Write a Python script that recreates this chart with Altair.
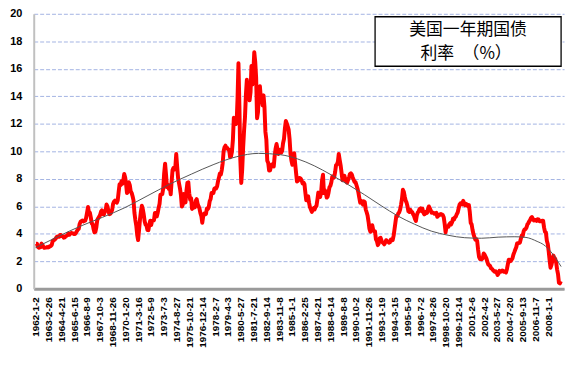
import altair as alt
import pandas as pd

# US 1-year treasury yield (%), monthly
RATES_1960S = [
    3.28, 3.28, 3.06, 2.99, 3.03, 3.03, 3.29, 3.20, 3.06, 2.98, 3.00, 3.01,
    3.04, 3.01, 3.03, 3.11, 3.12, 3.20, 3.48, 3.53, 3.57, 3.64, 3.74, 3.81,
    3.79, 3.78, 3.91, 3.91, 3.84, 3.83, 3.72, 3.74, 3.84, 3.86, 3.91, 4.02,
    3.94, 4.03, 4.06, 4.04, 4.03, 3.99, 3.98, 4.07, 4.20, 4.30, 4.37, 4.72,
    4.88, 4.94, 4.97, 4.90, 4.93, 4.97, 5.17, 5.54, 5.95, 5.58, 5.54, 5.20,
    4.75, 4.71, 4.35, 4.11, 4.15, 4.48, 5.01, 5.13, 5.24, 5.37, 5.61, 5.71,
    5.43, 5.41, 5.58, 5.71, 6.14, 5.98, 5.65, 5.43, 5.45, 5.57, 5.75, 6.19,
    6.34, 6.41, 6.34, 6.26, 6.42, 7.04, 7.60, 7.54, 7.82, 7.64, 7.89, 8.35,
]
RATES_1970S = [
    8.10, 7.59, 6.97, 7.06, 7.75, 7.55, 7.10, 6.98, 6.73, 6.43, 5.51, 5.00,
    4.57, 3.89, 3.55, 4.30, 5.04, 5.64, 6.04, 5.80, 5.41, 4.91, 4.67, 4.60,
    4.28, 4.27, 4.67, 4.96, 4.64, 4.93, 4.96, 4.98, 5.52, 5.52, 5.27, 5.52,
    5.89, 6.19, 6.85, 6.85, 6.89, 7.31, 8.39, 9.10, 8.31, 7.40, 7.57, 7.27,
    7.42, 6.88, 7.76, 8.62, 8.78, 8.67, 8.80, 9.80, 8.87, 8.05, 7.66, 7.31,
    6.83, 5.98, 6.11, 6.90, 6.39, 6.29, 7.11, 7.70, 7.75, 6.95, 6.49, 6.60,
    5.81, 5.91, 6.21, 5.92, 6.40, 6.52, 6.20, 6.00, 5.84, 5.50, 5.29, 4.80,
    5.29, 5.47, 5.50, 5.44, 5.84, 5.80, 5.94, 6.37, 6.53, 6.97, 6.95, 6.96,
    7.28, 7.34, 7.31, 7.45, 7.82, 8.09, 8.39, 8.31, 8.64, 9.14, 10.01, 10.30,
    10.41, 10.24, 10.25, 10.12, 10.12, 9.57, 9.64, 9.98, 10.84, 12.44, 12.39, 11.98,
]
RATES_1980S = [
    12.06, 13.92, 16.40, 13.30, 9.39, 7.70, 8.65, 10.24, 11.52, 12.49, 14.15, 15.20,
    14.08, 14.57, 13.71, 14.32, 16.20, 14.86, 15.72, 17.20, 16.52, 15.38, 12.41, 12.85,
    14.32, 14.73, 13.95, 13.98, 13.34, 14.07, 13.24, 11.43, 10.85, 9.32, 9.16, 8.60,
    8.62, 8.92, 9.04, 8.98, 8.90, 9.66, 10.20, 10.53, 10.16, 9.81, 9.94, 10.11,
    9.90, 10.04, 10.59, 10.90, 11.66, 12.20, 12.03, 11.82, 11.58, 10.90, 9.82, 9.33,
    9.02, 9.29, 9.86, 9.14, 8.46, 7.80, 7.86, 8.05, 8.07, 8.01, 7.88, 7.67,
    7.73, 7.61, 7.03, 6.44, 6.65, 6.73, 6.27, 5.93, 5.77, 5.60, 5.80, 5.87,
    5.78, 5.96, 6.03, 6.50, 7.00, 6.80, 6.68, 7.03, 7.90, 8.30, 6.96, 7.17,
    6.99, 6.64, 6.71, 7.01, 7.40, 7.49, 7.75, 8.17, 8.09, 8.11, 8.48, 8.99,
    9.05, 9.25, 9.80, 9.36, 8.98, 8.44, 7.89, 8.18, 8.22, 7.99, 7.77, 7.72,
]
RATES_1990S = [
    7.92, 8.11, 8.35, 8.40, 8.32, 8.10, 7.94, 7.78, 7.76, 7.55, 7.31, 7.05,
    6.64, 6.27, 6.40, 6.24, 6.13, 6.36, 6.31, 5.78, 5.57, 5.33, 4.89, 4.38,
    4.15, 4.29, 4.63, 4.30, 4.19, 4.17, 3.60, 3.47, 3.18, 3.30, 3.68, 3.71,
    3.50, 3.39, 3.33, 3.24, 3.36, 3.54, 3.47, 3.44, 3.36, 3.39, 3.58, 3.61,
    3.54, 3.87, 4.32, 4.82, 5.31, 5.27, 5.48, 5.56, 5.76, 6.11, 6.54, 7.20,
    7.05, 6.70, 6.43, 6.27, 6.00, 5.64, 5.59, 5.75, 5.62, 5.59, 5.43, 5.31,
    5.09, 4.94, 5.34, 5.54, 5.64, 5.81, 5.85, 5.67, 5.83, 5.55, 5.42, 5.47,
    5.61, 5.53, 5.80, 5.99, 5.87, 5.69, 5.54, 5.56, 5.52, 5.46, 5.46, 5.53,
    5.24, 5.31, 5.39, 5.38, 5.44, 5.41, 5.36, 5.21, 4.71, 4.12, 4.53, 4.52,
    4.51, 4.70, 4.78, 4.69, 4.85, 5.10, 5.03, 5.20, 5.25, 5.43, 5.55, 5.84,
]
RATES_2000S = [
    6.12, 6.22, 6.22, 6.15, 6.40, 6.17, 6.08, 6.18, 6.13, 6.01, 6.09, 5.60,
    4.81, 4.68, 4.30, 3.98, 3.78, 3.58, 3.62, 3.47, 2.82, 2.33, 2.18, 2.22,
    2.16, 2.23, 2.57, 2.48, 2.35, 2.20, 1.96, 1.76, 1.72, 1.65, 1.49, 1.45,
    1.36, 1.30, 1.24, 1.27, 1.18, 1.01, 1.12, 1.31, 1.24, 1.25, 1.34, 1.31,
    1.24, 1.24, 1.19, 1.43, 1.78, 2.12, 2.10, 2.02, 2.12, 2.23, 2.50, 2.67,
    2.86, 3.03, 3.30, 3.32, 3.33, 3.36, 3.64, 3.87, 3.85, 4.18, 4.33, 4.35,
    4.45, 4.68, 4.77, 4.90, 5.00, 5.16, 5.22, 5.08, 4.97, 5.01, 5.01, 4.94,
    5.06, 5.05, 4.92, 4.93, 4.91, 4.96, 4.96, 4.47, 4.14, 4.10, 3.50, 3.26,
    2.71, 2.05, 1.54, 1.74, 2.06, 2.42, 2.28, 2.18, 1.91, 1.42, 1.07, 0.45,
    0.40, 0.55,
]

# Polynomial trend line (decimal year, value)
TREND_YEARS = [
    1962.0, 1964.0, 1966.0, 1968.0, 1970.0, 1972.0, 1974.0, 1976.0, 1978.0,
    1980.0, 1982.0, 1984.0, 1985.5, 1987.0, 1988.5, 1990.0, 1991.5, 1993.0,
    1994.5, 1996.0, 1997.5, 1999.0, 2000.5, 2002.0, 2003.5, 2005.0, 2006.0,
    2007.0, 2007.6, 2008.2, 2009.15,
]
TREND_VALUES = [
    3.0, 3.8, 4.55, 5.2, 5.9, 6.75, 7.6, 8.35, 9.05,
    9.6, 9.85, 9.75, 9.45, 8.95, 8.3, 7.6, 6.85, 6.05,
    5.3, 4.7, 4.2, 3.9, 3.72, 3.68, 3.76, 3.79, 3.74,
    3.45, 3.2, 2.73, 1.62,
]

TICK_LABELS = [
    "1962-1-2", "1963-2-26", "1964-4-21", "1965-6-15", "1966-8-9", "1967-10-3",
    "1968-11-26", "1970-1-20", "1971-3-16", "1972-5-9", "1973-7-3", "1974-8-27",
    "1975-10-21", "1976-12-14", "1978-2-7", "1979-4-3", "1980-5-27", "1981-7-21",
    "1982-9-14", "1983-11-8", "1985-1-1", "1986-2-25", "1987-4-21", "1988-6-14",
    "1989-8-8", "1990-10-2", "1991-11-26", "1993-1-19", "1994-3-15", "1995-5-9",
    "1996-7-2", "1997-8-26", "1998-10-20", "1999-12-14", "2001-2-6", "2002-4-2",
    "2003-5-27", "2004-7-20", "2005-9-13", "2006-11-7", "2008-1-1",
]
Y_TICKS = [0, 2, 4, 6, 8, 10, 12, 14, 16, 18, 20]
TITLE_LINES = ["美国一年期国债", "利率\u3000（%）"]

EPOCH = pd.Timestamp("1970-01-01")


def to_ms(ts):
    return int((ts - EPOCH) / pd.Timedelta(milliseconds=1))


values = RATES_1960S + RATES_1970S + RATES_1980S + RATES_1990S + RATES_2000S
months = pd.date_range("1962-01-01", periods=len(values), freq="MS") + pd.Timedelta(days=14)
df = pd.DataFrame({"ms": [to_ms(m) for m in months], "rate": values})


def year_to_ms(y):
    yi = int(y)
    start = pd.Timestamp(year=yi, month=1, day=1)
    end = pd.Timestamp(year=yi + 1, month=1, day=1)
    return to_ms(start + (end - start) * (y - yi))


trend_df = pd.DataFrame({
    "ms": [year_to_ms(y) for y in TREND_YEARS],
    "rate": TREND_VALUES,
})

tick_ms = []
for s in TICK_LABELS:
    yy, mm, dd = (int(p) for p in s.split("-"))
    tick_ms.append(to_ms(pd.Timestamp(year=yy, month=mm, day=dd)))

x_domain = [to_ms(pd.Timestamp("1961-11-01")), to_ms(pd.Timestamp("2009-06-01"))]

xenc = alt.X(
    "ms:T",
    title=None,
    scale=alt.Scale(type="utc", domain=x_domain),
    axis=alt.Axis(
        values=tick_ms,
        labelExpr="utcFormat(datum.value, '%Y-%-m-%-d')",
        labelAngle=-90, labelFontSize=10, labelFontWeight="bold",
        labelFont="Liberation Sans", labelColor="black", labelPadding=8,
        labelFlush=False, labelOverlap=False, ticks=False, grid=False,
        domainColor="#9a9a9a", domainWidth=3,
    ),
)

yenc = alt.Y(
    "rate:Q", title=None,
    scale=alt.Scale(domain=[0, 20], nice=False, zero=True),
    axis=alt.Axis(
        values=Y_TICKS, labelFontSize=11, labelFontWeight="bold",
        labelFont="Liberation Sans", labelColor="black", labelPadding=12,
        ticks=False, grid=True, gridColor="#a3b3e3", gridDash=[4, 2],
        gridWidth=1, domainColor="#c0c0c0", domainWidth=2,
    ),
)

red = alt.Chart(df).mark_line(
    color="#ff0000", strokeWidth=4, strokeJoin="round"
).encode(x=xenc, y=yenc)

trend = alt.Chart(trend_df).mark_line(
    color="#555555", strokeWidth=1, interpolate="monotone"
).encode(x=xenc, y=yenc)

one = alt.Chart(pd.DataFrame({"k": [0]}))
box = one.mark_rect(fill="white", stroke="black", strokeWidth=1.3).encode(
    x=alt.value(345), x2=alt.value(533), y=alt.value(3), y2=alt.value(53)
)
line1 = one.mark_text(
    text=TITLE_LINES[0], font="Noto Sans CJK SC", fontSize=17, color="black",
    align="center", baseline="middle",
).encode(x=alt.value(439), y=alt.value(16))
line2 = one.mark_text(
    text=TITLE_LINES[1], font="Noto Sans CJK SC", fontSize=17, color="black",
    align="center", baseline="middle",
).encode(x=alt.value(437), y=alt.value(41))

chart = (
    alt.layer(red, trend, box, line1, line2)
    .properties(
        width=536, height=278,
        autosize=alt.AutoSizeParams(type="none"),
        padding={"left": 26, "top": 4, "right": 6, "bottom": 66},
        background="white",
    )
    .configure_view(strokeWidth=0)
)

chart.save("out.html", embed_options={"renderer": "svg", "actions": False})
